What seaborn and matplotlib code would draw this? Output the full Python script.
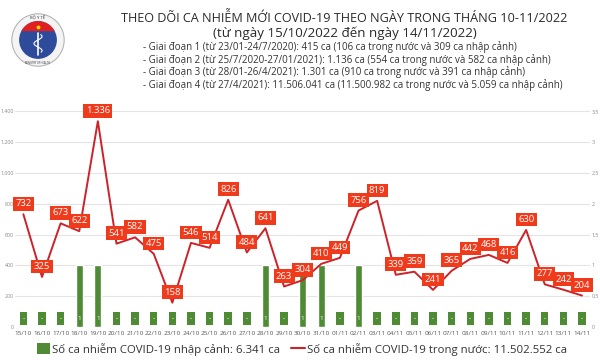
import numpy as np
import pandas as pd
import matplotlib
matplotlib.use('Agg')
import matplotlib.pyplot as plt
import seaborn as sns
from matplotlib.patches import Patch, Circle
from matplotlib.lines import Line2D

# dữ liệu 15/10 - 14/11/2022
dates = ['15/10', '16/10', '17/10', '18/10', '19/10', '20/10', '21/10', '22/10',
         '23/10', '24/10', '25/10', '26/10', '27/10', '28/10', '29/10', '30/10',
         '31/10', '01/11', '02/11', '03/11', '04/11', '05/11', '06/11', '07/11',
         '08/11', '09/11', '10/11', '11/11', '12/11', '13/11', '14/11']
domestic = [732, 325, 673, 622, 1336, 541, 582, 475, 158, 546, 514, 826, 484, 641,
            263, 304, 410, 449, 756, 819, 339, 359, 241, 365, 442, 468, 416, 630,
            277, 242, 204]
imported = [0, 0, 0, 1, 1, 0, 0, 0, 0, 0, 0, 0, 0, 1, 0, 1, 1, 0, 1, 0, 0, 0, 0,
            0, 0, 0, 0, 0, 0, 0, 0]
left_ticks = [0, 200, 400, 600, 800, 1000, 1200, 1400]
left_labels = ['0', '200', '400', '600', '800', '1.000', '1.200', '1.400']
right_ticks = [0, 0.5, 1, 1.5, 2, 2.5, 3, 3.5]
right_labels = ['0', '0,5', '1', '1,5', '2', '2,5', '3', '3,5']

title = 'THEO DÕI CA NHIỄM MỚI COVID-19 THEO NGÀY TRONG THÁNG 10-11/2022'
subtitle = '(từ ngày 15/10/2022 đến ngày 14/11/2022)'
notes = ['- Giai đoạn 1 (từ 23/01-24/7/2020): 415 ca (106 ca trong nước và 309 ca nhập cảnh)',
         '- Giai đoạn 2 (từ 25/7/2020-27/01/2021): 1.136 ca (554 ca trong nước và 582 ca nhập cảnh)',
         '- Giai đoạn 3 (từ 28/01-26/4/2021): 1.301 ca (910 ca trong nước và 391 ca nhập cảnh)',
         '- Giai đoạn 4 (từ 27/4/2021): 11.506.041 ca (11.500.982 ca trong nước và 5.059 ca nhập cảnh)']
leg_labels = ['Số ca nhiễm COVID-19 nhập cảnh: 6.341 ca',
              'Số ca nhiễm COVID-19 trong nước: 11.502.552 ca']

GREEN = '#4f8a35'
RED = '#cc2229'
BOX = '#ef3b1c'

sns.set_theme(style='white')
plt.rcParams['font.family'] = ['Open Sans', 'DejaVu Sans']

df = pd.DataFrame({'pos': np.arange(len(dates)), 'date': dates,
                   'domestic': domestic, 'imported': imported})

fig = plt.figure(figsize=(6, 3.6), dpi=100)
ax = fig.add_axes([15/600, 33/360, 575/600, 228/360])
ax2 = ax.twinx()

# cột nhập cảnh (trục phải)
sns.barplot(data=df, x='pos', y='imported', native_scale=True, color=GREEN,
            width=0.38, saturation=1, ax=ax2)
for p, v in zip(df['pos'], df['imported']):
    if v > 0:
        ax2.text(p, 0.14, '1', color='white', fontsize=4.5, ha='center', va='center')
    else:
        ax2.text(p, 0.14, '-', color='white', fontsize=4.8, ha='center', va='center',
                 bbox=dict(boxstyle='square,pad=0.4', fc=GREEN, ec='none'))

# đường trong nước (trục trái)
sns.lineplot(data=df, x='pos', y='domestic', color=RED, linewidth=1.4, ax=ax)
for p, v in zip(df['pos'], df['domestic']):
    ax.annotate(f'{v:,}'.replace(',', '.'), (p, v), xytext=(0, 7.5),
                textcoords='offset points', ha='center', va='center',
                color='white', fontsize=6.8,
                bbox=dict(boxstyle='square,pad=0.25', fc=BOX, ec='none'))

ax.set_zorder(ax2.get_zorder() + 1)
ax.patch.set_visible(False)

ax.set_xlim(-0.45, 30.43)
ax.set_ylim(0, 1480)
ax2.set_ylim(0, 1480 / 400)
ax.set_yticks(left_ticks, left_labels)
ax2.set_yticks(right_ticks, right_labels)
ax.set_xticks(df['pos'], dates)
ax.tick_params(axis='x', labelsize=4.6, colors='#555555', length=0, pad=3)
ax.tick_params(axis='y', labelsize=3.8, colors='#888888', length=0, pad=1)
ax2.tick_params(axis='y', labelsize=3.8, colors='#888888', length=0, pad=1)
ax.grid(False)
ax2.yaxis.grid(True, color='#e4e4e4', lw=0.8)
ax2.set_axisbelow(True)
for a in (ax, ax2):
    a.set_xlabel('')
    a.set_ylabel('')
    for s in a.spines.values():
        s.set_visible(False)

# tiêu đề
fig.text(0.574, 1 - 18/360, title, ha='center', va='center', fontsize=9.1,
         color='#2a2a2a', fontweight='medium')
fig.text(0.574, 1 - 33/360, subtitle, ha='center', va='center', fontsize=9.6,
         color='#2a2a2a', fontweight='medium')
for i, t in enumerate(notes):
    fig.text(143/600, 1 - (47 + 12.7 * i)/360, t, ha='left', va='center',
             fontsize=7.0, color='#333333')

# logo
lax = fig.add_axes([11/600, (360 - 67)/360, 54/600, 54/360])
lax.set_xlim(-1, 1)
lax.set_ylim(-1, 1)
lax.axis('off')
lax.add_patch(Circle((0, 0), 0.97, fc='#f4f4f4', ec='#b5b5b5', lw=0.8))
lax.add_patch(Circle((0, 0), 0.70, fc='#2d4b9a', ec='none'))
th = np.radians(np.linspace(28, 152, 40))
lax.fill(0.70 * np.cos(th), 0.70 * np.sin(th), color='#e02020', lw=0)
lax.plot([0, 0], [-0.55, 0.25], color='white', lw=1.2)
yy = np.linspace(-0.45, 0.2, 40)
lax.plot(0.15 * np.sin(yy * 12), yy, color='white', lw=0.8)
lax.plot([0], [0.5], marker='*', color='#ffd700', ms=2.5)
lax.text(0, 0.83, 'BỘ Y TẾ', ha='center', va='center', fontsize=3, color='#333333')
lax.text(0, -0.84, 'MINISTRY OF HEALTH', ha='center', va='center', fontsize=1.8,
         color='#333333')

# chú thích
handles = [Patch(fc=GREEN, ec='none'), Line2D([], [], color=RED, lw=1.5)]
fig.legend(handles, leg_labels, loc='center', bbox_to_anchor=(0.503, 0.03), ncol=2,
           frameon=False, fontsize=8.2, handlelength=1.2, handleheight=1.1,
           handletextpad=0.15, columnspacing=1.0, labelcolor='#333333')

fig.savefig('out.png', dpi=100, facecolor='white')
